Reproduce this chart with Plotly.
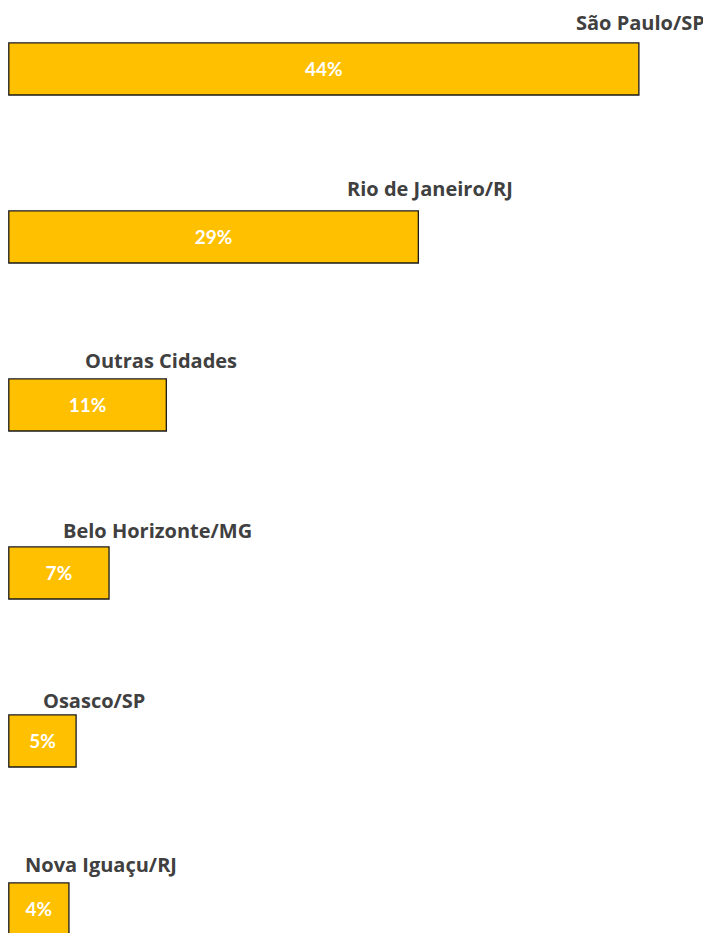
import plotly.graph_objects as go

# Data
cities = ["São Paulo/SP", "Rio de Janeiro/RJ", "Outras Cidades",
          "Belo Horizonte/MG", "Osasco/SP", "Nova Iguaçu/RJ"]
shares = [44.0, 28.6, 11.0, 7.0, 4.7, 4.2]

# Style
label_xshift = [2, 12, -5, 48, 18, 32]
label_yshift = [46, 48, 44, 42, 40, 44]
bar_color = "#FFC000"
text_color = "#404040"
label_font = "'Open Sans', Lato, sans-serif"
value_font = "Lato, 'Open Sans', sans-serif"

pos = list(range(len(cities)))
px_per_unit = 14.32

fig = go.Figure()
fig.add_trace(go.Bar(
    x=shares, y=pos, orientation="h",
    marker=dict(color=bar_color, line=dict(color="#1a1a1a", width=1.3)),
    width=0.31,
    text=shares, texttemplate="%{x:.0f}%",
    textposition="inside", insidetextanchor="middle",
    textfont=dict(color="white", size=19, family=value_font, weight="bold"),
    hoverinfo="skip",
))

for i, (c, v) in enumerate(zip(cities, shares)):
    fig.add_annotation(
        x=v, y=i, text=f"<b>{c}</b>", showarrow=False,
        xanchor="center", yanchor="middle",
        xshift=label_xshift[i], yshift=label_yshift[i],
        font=dict(color=text_color, size=20, family=label_font),
    )

fig.update_layout(
    width=711, height=933,
    margin=dict(l=0, r=0, t=0, b=0),
    paper_bgcolor="white", plot_bgcolor="white",
    showlegend=False,
    xaxis=dict(range=[-0.8 / px_per_unit, 710.2 / px_per_unit], visible=False, fixedrange=True),
    yaxis=dict(range=[-0.363 + 933 / 168, -0.363], visible=False, fixedrange=True),
    uniformtext=dict(minsize=10, mode="show"),
)

fig.write_html("out.html")
